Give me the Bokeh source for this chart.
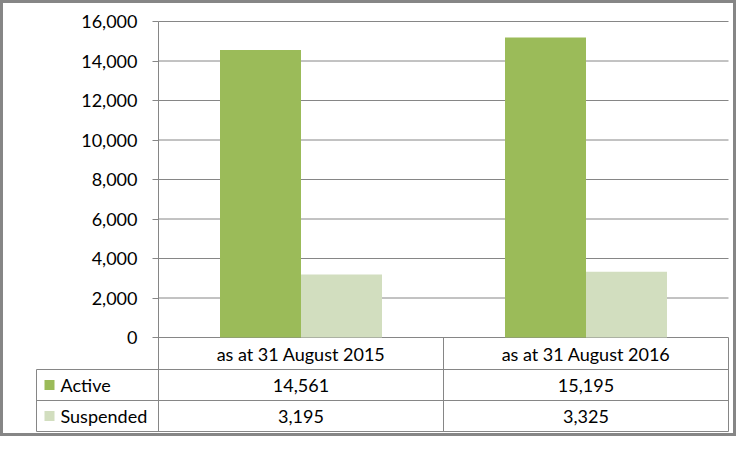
from bokeh.plotting import figure
from bokeh.models import Range1d, FixedTicker, NumeralTickFormatter, ColumnDataSource, LinearAxis
from bokeh.embed import file_html
from bokeh.resources import INLINE
from bokeh.core.properties import value
from bokeh.transform import dodge

# ---- data ----
categories = ["as at 31 August 2015", "as at 31 August 2016"]
series = ["Active", "Suspended"]
active = [14561, 15195]
suspended = [3195, 3325]
y_ticks = [0, 2000, 4000, 6000, 8000, 10000, 12000, 14000, 16000]
colors = ["#9BBB59", "#D2DEBF"]

# ---- layout (pixels) ----
W, H = 736, 436
AX_X = 158          # value axis position
CAT_W = 285         # width of one category column
TOP, ZERO = 21, 337 # top gridline, zero line
ROWS = [337, 369, 400, 431]
TBL_LEFT = 36
BW = 81 / CAT_W     # bar width in category units
GRAY = "#868686"
FONT = "Lato"
FS = "18px"

n = len(categories)
K = y_ticks[-1] / (ZERO - TOP)

p = figure(width=W, height=H, output_backend="svg", toolbar_location=None,
           x_range=Range1d(-AX_X / CAT_W, (W - AX_X) / CAT_W),
           y_range=Range1d(-(H - ZERO) * K, y_ticks[-1] + TOP * K),
           x_axis_location=None, y_axis_location=None,
           min_border=0, background_fill_color="white", border_fill_color="white")
p.outline_line_color = GRAY
p.outline_line_width = 5
p.grid.visible = False
p.extra_x_ranges = {"px": Range1d(0, W)}
p.extra_y_ranges = {"px": Range1d(H, 0)}

# value axis
ax = LinearAxis(fixed_location=0, ticker=FixedTicker(ticks=y_ticks),
                formatter=NumeralTickFormatter(format="0,0"),
                bounds=(-(ROWS[-1] - ZERO) * K, y_ticks[-1]))
ax.axis_line_color = GRAY
ax.major_tick_line_color = GRAY
ax.major_tick_out = 6
ax.major_tick_in = 0
ax.minor_tick_out = 0
ax.minor_tick_in = 0
ax.major_label_standoff = 15
ax.major_label_text_font = FONT
ax.major_label_text_font_size = FS
ax.major_label_text_color = "black"
p.add_layout(ax, "left")

# gridlines
p.segment(x0=0, y0=y_ticks, x1=n, y1=y_ticks, line_color=GRAY, line_width=1)

# bars
src = ColumnDataSource(dict(x=[i + 0.5 for i in range(n)], cat=categories,
                            active=active, suspended=suspended))
p.vbar(x=dodge("x", -BW / 2, range=p.x_range), top="active", bottom=0, width=BW,
       fill_color=colors[0], line_color=None, source=src)
p.vbar(x=dodge("x", BW / 2, range=p.x_range), top="suspended", bottom=0, width=BW,
       fill_color=colors[1], line_color=None, source=src)

# data table lines (pixel coordinates)
p.segment(x0=TBL_LEFT, y0=ROWS[1:], x1=AX_X + n * CAT_W, y1=ROWS[1:],
          line_color=GRAY, line_width=1, x_range_name="px", y_range_name="px")
p.segment(x0=TBL_LEFT, y0=ROWS[1], x1=TBL_LEFT, y1=ROWS[-1],
          line_color=GRAY, line_width=1, x_range_name="px", y_range_name="px")
p.segment(x0=list(range(1, n + 1)), y0=ROWS[0], x1=list(range(1, n + 1)), y1=ROWS[-1],
          line_color=GRAY, line_width=1, y_range_name="px")

# category labels
hdr_y = (ROWS[0] + ROWS[1]) / 2
p.text(x="x", y=hdr_y, text="cat", source=src, y_range_name="px",
       text_align="center", text_baseline="middle",
       text_font=value(FONT), text_font_size=FS, text_color="black")

# values in table
row_y = [(ROWS[1] + ROWS[2]) / 2, (ROWS[2] + ROWS[3]) / 2]
for vals, ry in zip([active, suspended], row_y):
    p.text(x=[i + 0.5 for i in range(n)], y=ry, text=[f"{v:,}" for v in vals],
           y_range_name="px", text_align="center", text_baseline="middle",
           text_font=value(FONT), text_font_size=FS, text_color="black")

# legend keys
p.rect(x=TBL_LEFT + 13, y=row_y, width=10, height=10, fill_color=colors,
       line_color=None, x_range_name="px", y_range_name="px")
p.text(x=TBL_LEFT + 24, y=row_y, text=series, x_range_name="px", y_range_name="px",
       text_align="left", text_baseline="middle",
       text_font=value(FONT), text_font_size=FS, text_color="black")

open("out.html", "w").write(file_html(p, INLINE))
